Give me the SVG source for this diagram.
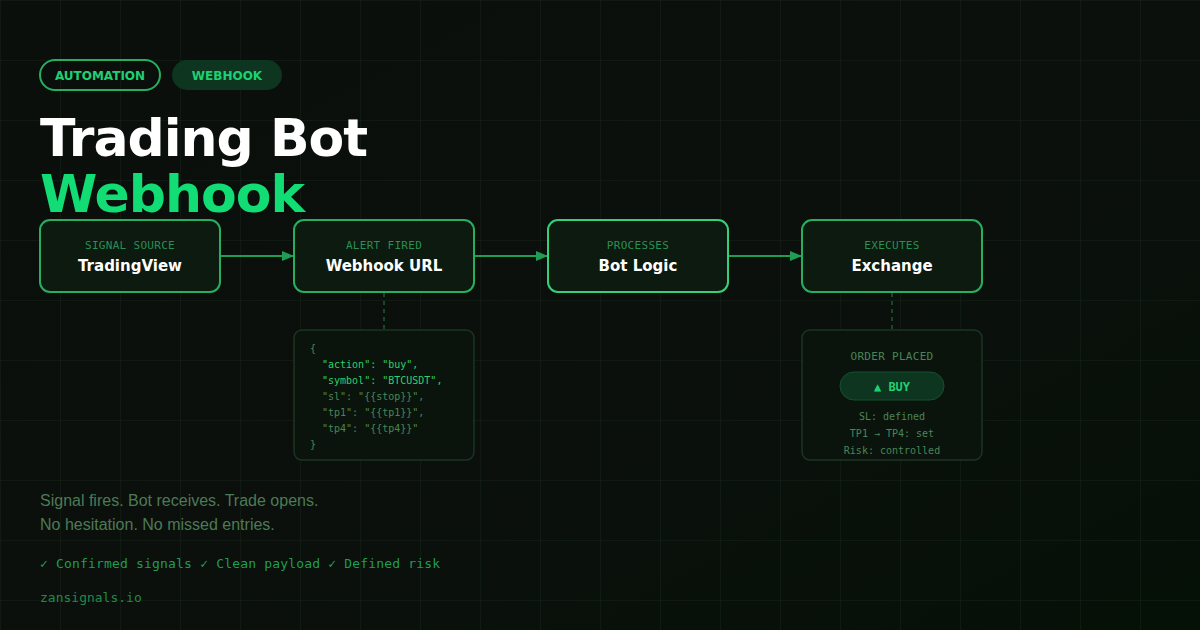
<svg xmlns="http://www.w3.org/2000/svg" width="1200" height="630" viewBox="0 0 1200 630">
<defs>
<pattern id="grid" width="60" height="60" patternUnits="userSpaceOnUse">
<path d="M60 0H0V60" fill="none" stroke="#16261a" stroke-width="1"/>
</pattern>
<linearGradient id="bgGrad" x1="0" y1="0" x2="1" y2="1">
<stop offset="0" stop-color="#0b0f0c"/>
<stop offset="0.7" stop-color="#0a100b"/>
<stop offset="1" stop-color="#051007"/>
</linearGradient>
<marker id="arr" markerWidth="12" markerHeight="10" refX="12" refY="5" orient="auto" markerUnits="userSpaceOnUse">
<path d="M0 0L12 5L0 10Z" fill="#1f9d55"/>
</marker>
<style>
.box{fill:#0c1a0f;stroke:#27ae60;stroke-width:2}
.box.hi{stroke:#36d07a}
.sub{font-family:"DejaVu Sans Mono",monospace;font-size:11px;fill:#2a8f55;letter-spacing:0.3px}
.main{font-family:"DejaVu Sans",sans-serif;font-weight:bold;font-size:15px;fill:#ffffff}
.conn{stroke:#1f9d55;stroke-width:2;fill:none}
.dash{stroke:#1c5a34;stroke-width:1.5;stroke-dasharray:4 4;fill:none}
.panel{fill:#0a140c;stroke:#1b3523;stroke-width:1.5}
.code{font-family:"DejaVu Sans Mono",monospace;font-size:10px;fill:#4a8458}
.code.hi{fill:#2fcf70}
.info{font-family:"DejaVu Sans Mono",monospace;font-size:10px;fill:#4a8458}
</style>
</defs>
<rect width="1200" height="630" fill="url(#bgGrad)"/>
<rect width="1200" height="630" fill="url(#grid)"/>

<g id="tags">
<rect x="40" y="60" width="120" height="30" rx="15" fill="none" stroke="#27ae60" stroke-width="2"/>
<text x="100" y="79.5" text-anchor="middle" font-family="DejaVu Sans,sans-serif" font-weight="bold" font-size="12" fill="#1fd072">AUTOMATION</text>
<rect x="172" y="60" width="110" height="30" rx="15" fill="#0d3520"/>
<text x="227" y="79.5" text-anchor="middle" font-family="DejaVu Sans,sans-serif" font-weight="bold" font-size="12" fill="#1fd072">WEBHOOK</text>
</g>

<g id="title" font-family="DejaVu Sans,sans-serif" font-weight="bold" font-size="52" letter-spacing="-1">
<text x="40" y="156" fill="#ffffff">Trading Bot</text>
<text x="40" y="212" fill="#12dc74">Webhook</text>
</g>

<g id="connectors">
<line class="conn" x1="220" y1="256" x2="294" y2="256" marker-end="url(#arr)"/>
<line class="conn" x1="474" y1="256" x2="548" y2="256" marker-end="url(#arr)"/>
<line class="conn" x1="728" y1="256" x2="802" y2="256" marker-end="url(#arr)"/>
<line class="dash" x1="384" y1="293" x2="384" y2="330"/>
<line class="dash" x1="892" y1="293" x2="892" y2="330"/>
</g>

<g id="node-tradingview">
<rect class="box" x="40" y="220" width="180" height="72" rx="10"/>
<text class="sub" x="130" y="249" text-anchor="middle">SIGNAL SOURCE</text>
<text class="main" x="130" y="271" text-anchor="middle">TradingView</text>
</g>
<g id="node-webhook">
<rect class="box" x="294" y="220" width="180" height="72" rx="10"/>
<text class="sub" x="384" y="249" text-anchor="middle">ALERT FIRED</text>
<text class="main" x="384" y="271" text-anchor="middle">Webhook URL</text>
</g>
<g id="node-bot">
<rect class="box hi" x="548" y="220" width="180" height="72" rx="10"/>
<text class="sub" x="638" y="249" text-anchor="middle">PROCESSES</text>
<text class="main" x="638" y="271" text-anchor="middle">Bot Logic</text>
</g>
<g id="node-exchange">
<rect class="box" x="802" y="220" width="180" height="72" rx="10"/>
<text class="sub" x="892" y="249" text-anchor="middle">EXECUTES</text>
<text class="main" x="892" y="271" text-anchor="middle">Exchange</text>
</g>

<g id="payload">
<rect class="panel" x="294" y="330" width="180" height="130" rx="8"/>
<text class="code" x="310" y="352">{</text>
<text class="code hi" x="322" y="368">"action": "buy",</text>
<text class="code hi" x="322" y="384">"symbol": "BTCUSDT",</text>
<text class="code" x="322" y="400">"sl": "{{stop}}",</text>
<text class="code" x="322" y="416">"tp1": "{{tp1}}",</text>
<text class="code" x="322" y="432">"tp4": "{{tp4}}"</text>
<text class="code" x="310" y="448">}</text>
</g>

<g id="order">
<rect class="panel" x="802" y="330" width="180" height="130" rx="8"/>
<text x="892" y="360" text-anchor="middle" font-family="DejaVu Sans Mono,monospace" font-size="11" fill="#4a8458" letter-spacing="0.3">ORDER PLACED</text>
<rect x="840" y="372" width="104" height="28" rx="14" fill="#0d3520" stroke="#15502e" stroke-width="1"/>
<text x="892" y="390.5" text-anchor="middle" font-family="DejaVu Sans Mono,monospace" font-weight="bold" font-size="12" fill="#1fd072">▲ BUY</text>
<text class="info" x="892" y="420" text-anchor="middle">SL: defined</text>
<text class="info" x="892" y="437" text-anchor="middle">TP1 → TP4: set</text>
<text class="info" x="892" y="454" text-anchor="middle">Risk: controlled</text>
</g>

<g id="footer">
<text x="40" y="506" font-family="Liberation Sans,Arial,sans-serif" font-size="16" fill="#4d7a56">Signal fires. Bot receives. Trade opens.</text>
<text x="40" y="530" font-family="Liberation Sans,Arial,sans-serif" font-size="16" fill="#4d7a56">No hesitation. No missed entries.</text>
<text x="40" y="568" font-family="DejaVu Sans Mono,monospace" font-size="13" fill="#1f9d55" letter-spacing="0.18">✓ Confirmed signals ✓ Clean payload ✓ Defined risk</text>
<text x="40" y="602" font-family="DejaVu Sans Mono,monospace" font-size="13" fill="#1f8a4a">zansignals.io</text>
</g>
</svg>
